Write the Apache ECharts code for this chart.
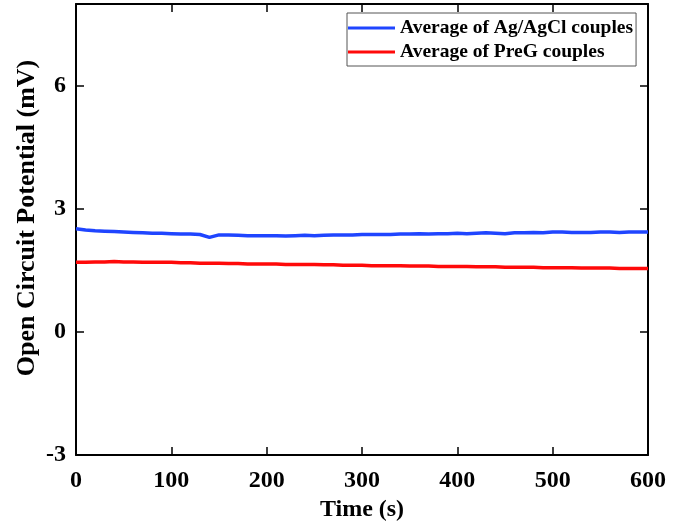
<!DOCTYPE html>
<html>
<head>
<meta charset="utf-8">
<script src="https://cdn.jsdelivr.net/npm/echarts@6/dist/echarts.min.js"></script>
<style>
html,body{margin:0;padding:0;background:#fff;}
#chart{width:682px;height:527px;}
</style>
</head>
<body>
<div id="chart"></div>
<script>
var timeS = [0,10,20,30,40,50,60,70,80,90,100,110,120,130,140,150,160,170,180,190,200,210,220,230,240,250,260,270,280,290,300,310,320,330,340,350,360,370,380,390,400,410,420,430,440,450,460,470,480,490,500,510,520,530,540,550,560,570,580,590,600];
var agAgCl = [2.52,2.49,2.47,2.46,2.45,2.44,2.43,2.42,2.41,2.41,2.40,2.39,2.39,2.38,2.31,2.37,2.37,2.36,2.35,2.35,2.35,2.35,2.34,2.35,2.36,2.35,2.36,2.37,2.37,2.37,2.38,2.38,2.38,2.38,2.39,2.39,2.40,2.39,2.40,2.40,2.41,2.40,2.41,2.42,2.41,2.40,2.42,2.42,2.43,2.42,2.44,2.44,2.43,2.43,2.43,2.44,2.44,2.43,2.44,2.44,2.44];
var preG = [1.70,1.70,1.71,1.71,1.72,1.71,1.71,1.70,1.70,1.70,1.70,1.69,1.69,1.68,1.68,1.68,1.67,1.67,1.66,1.66,1.66,1.66,1.65,1.65,1.65,1.65,1.64,1.64,1.63,1.63,1.63,1.62,1.62,1.62,1.62,1.61,1.61,1.61,1.60,1.60,1.60,1.60,1.59,1.59,1.59,1.58,1.58,1.58,1.58,1.57,1.57,1.57,1.57,1.56,1.56,1.56,1.56,1.55,1.55,1.55,1.55];
var seriesNames = ['Average of Ag/AgCl couples', 'Average of PreG couples'];
var xTitle = 'Time (s)';
var yTitle = 'Open Circuit Potential (mV)';

function pairs(xs, ys){ return xs.map(function(x,i){ return [x, ys[i]]; }); }

var FONT = '"Liberation Serif","Times New Roman",serif';
var chart = echarts.init(document.getElementById('chart'));
var axLine = {show:true, onZero:false, lineStyle:{color:'#000', width:2}};
var tickIn = {show:true, inside:true, length:8, lineStyle:{color:'#000', width:1.5}};
chart.setOption({
  animation:false,
  backgroundColor:'#fff',
  grid:{left:76, right:34, top:4, bottom:64, containLabel:false},
  legend:{
    orient:'vertical', left:347, top:13,
    data:seriesNames,
    icon:'rect', itemWidth:47, itemHeight:3, itemGap:4,
    padding:[5,3,4,1],
    borderColor:'#555', borderWidth:1, backgroundColor:'#fff',
    textStyle:{fontFamily:FONT, fontWeight:'bold', fontSize:19.5, color:'#000', lineHeight:20, padding:[0,0,0,0]}
  },
  xAxis:[{
    type:'value', min:0, max:600, interval:100, position:'bottom',
    axisLine:axLine, axisTick:tickIn, splitLine:{show:false},
    axisLabel:{fontFamily:FONT, fontWeight:'bold', fontSize:24, color:'#000', margin:14},
    name:xTitle, nameLocation:'middle', nameGap:40,
    nameTextStyle:{fontFamily:FONT, fontWeight:'bold', fontSize:24, color:'#000'}
  },{
    type:'value', min:0, max:600, interval:100, position:'top',
    axisLine:axLine, axisTick:tickIn, axisLabel:{show:false}, splitLine:{show:false}
  }],
  yAxis:[{
    type:'value', min:-3, max:8, interval:3, position:'left',
    axisLine:axLine, axisTick:tickIn, splitLine:{show:false},
    axisLabel:{fontFamily:FONT, fontWeight:'bold', fontSize:24, color:'#000', margin:10, showMaxLabel:false}
  },{
    type:'value', min:-3, max:8, interval:3, position:'right',
    axisLine:axLine, axisTick:tickIn, axisLabel:{show:false}, splitLine:{show:false}
  }],
  graphic:[{
    type:'text', x:27, y:218, rotation:Math.PI/2,
    style:{text:yTitle, fontFamily:FONT, fontWeight:'bold', fontSize:26, fill:'#000', textAlign:'center', textVerticalAlign:'middle'}
  }],
  series:[{
    name:seriesNames[0], type:'line', xAxisIndex:0, yAxisIndex:0,
    data:pairs(timeS, agAgCl), showSymbol:false, symbol:'none',
    lineStyle:{color:'#1f45ff', width:3.5}, itemStyle:{color:'#1f45ff'}
  },{
    name:seriesNames[1], type:'line', xAxisIndex:0, yAxisIndex:0,
    data:pairs(timeS, preG), showSymbol:false, symbol:'none',
    lineStyle:{color:'#ff0a0a', width:3.5}, itemStyle:{color:'#ff0a0a'}
  }]
});
</script>
</body>
</html>
